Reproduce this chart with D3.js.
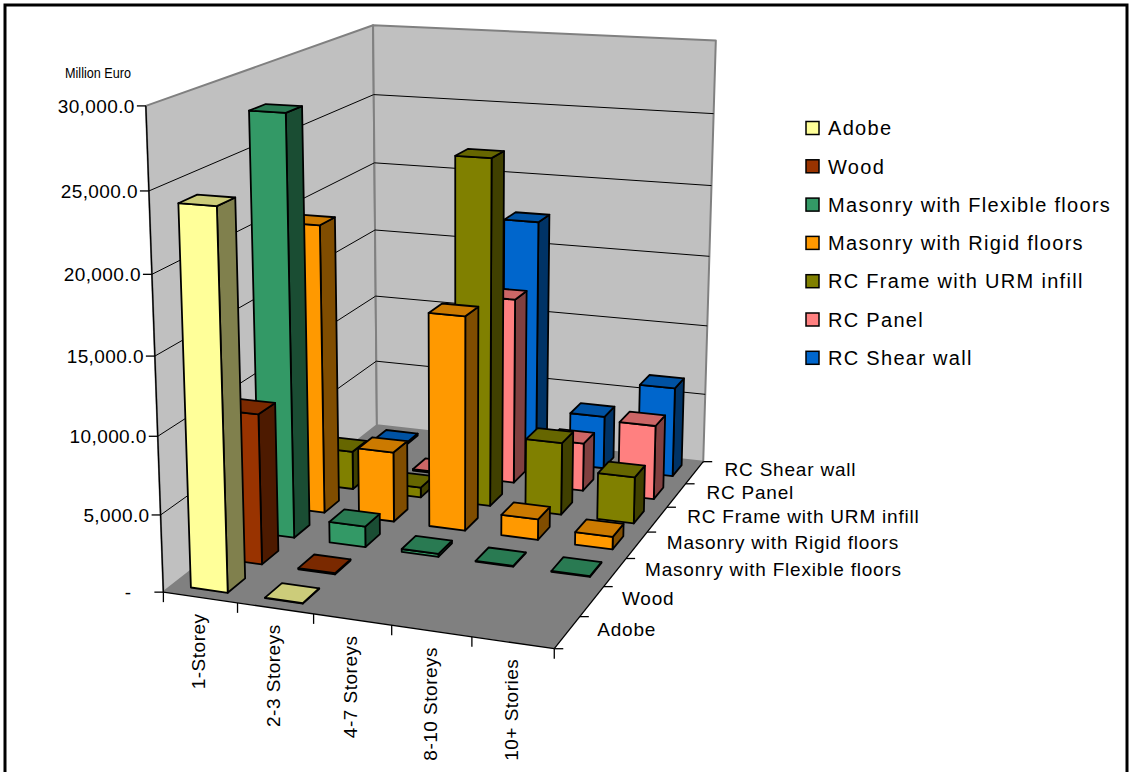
<!DOCTYPE html>
<html>
<head>
<meta charset="utf-8">
<script src="https://cdn.jsdelivr.net/npm/d3@7"></script>
<style>
  body { margin: 0; background: #fff; }
  svg text { font-family: "Liberation Sans", Arial, sans-serif; fill: #000; }
</style>
</head>
<body>
<svg id="chart" width="1131" height="772"></svg>
<script>
// ---- data (Million Euro) ----
const categories = ["1-Storey", "2-3 Storeys", "4-7 Storeys", "8-10 Storeys", "10+ Stories"];
const seriesNames = ["Adobe", "Wood", "Masonry with Flexible floors", "Masonry with Rigid floors",
                     "RC Frame with URM infill", "RC Panel", "RC Shear wall"];
const adobe           = [24100,   30, null, null, null];
const wood            = [ 9900,   80, null, null, null];
const masonryFlexible = [27900, 1400,   200,   50,   50];
const masonryRigid    = [19700, 4800, 14500, 1400,  850];
const rcFrameUrm      = [ 2700,  700, 23800, 5000, 3200];
const rcPanel         = [ null,  100, 13100, 3400, 5200];
const rcShearWall     = [  150, null, 17400, 3800, 6400];
const valueTicks = [0, 5000, 10000, 15000, 20000, 25000, 30000];
const seriesColors = ["#FFFF99", "#993300", "#339966", "#FF9900", "#808000", "#FF8080", "#0066CC"];

const seriesValues = [adobe, wood, masonryFlexible, masonryRigid, rcFrameUrm, rcPanel, rcShearWall];

// ---- 3D frame: screen anchors of the plot box corners (u = category, v = depth, w = height) ----
const frameAnchors = [
  [[0, 0, 0], [163.5, 591.5]],
  [[1, 0, 0], [554.3, 649.3]],
  [[1, 1, 0], [703.3, 461.0]],
  [[0, 1, 0], [376.7, 426.0]],
  [[0, 0, 1], [145.7, 106.0]],
  [[0, 1, 1], [373.3,  25.0]],
  [[1, 1, 1], [715.7,  40.7]]
];

// Least-squares perspective camera (3x4 matrix, last entry fixed to 1).
function fitCamera(pairs) {
  const s = 300, ox = 430, oy = 340;
  const rows = [], rhs = [];
  pairs.forEach(([[u, v, w], [X, Y]]) => {
    const x = (X - ox) / s, y = (Y - oy) / s;
    rows.push([u, v, w, 1, 0, 0, 0, 0, -x * u, -x * v, -x * w]); rhs.push(x);
    rows.push([0, 0, 0, 0, u, v, w, 1, -y * u, -y * v, -y * w]); rhs.push(y);
  });
  const n = 11;
  const A = Array.from({length: n}, () => new Array(n + 1).fill(0));
  rows.forEach((r, k) => {
    for (let i = 0; i < n; i++) {
      for (let j = 0; j < n; j++) A[i][j] += r[i] * r[j];
      A[i][n] += r[i] * rhs[k];
    }
  });
  for (let c = 0; c < n; c++) {
    let p = c;
    for (let i = c + 1; i < n; i++) if (Math.abs(A[i][c]) > Math.abs(A[p][c])) p = i;
    [A[c], A[p]] = [A[p], A[c]];
    for (let i = 0; i < n; i++) {
      if (i === c) continue;
      const f = A[i][c] / A[c][c];
      for (let j = c; j <= n; j++) A[i][j] -= f * A[c][j];
    }
  }
  const h = A.map((row, i) => row[n] / row[i]);
  return (u, v, w) => {
    const d = h[8] * u + h[9] * v + h[10] * w + 1;
    return [ox + s * (h[0] * u + h[1] * v + h[2] * w + h[3]) / d,
            oy + s * (h[4] * u + h[5] * v + h[6] * w + h[7]) / d];
  };
}
const project = fitCamera(frameAnchors);

// ---- scales ----
const xBand = d3.scaleBand().domain(categories).range([0, 1]).paddingInner(0.5).paddingOuter(0.25);
const zBand = d3.scaleBand().domain(seriesNames).range([0, 1]).paddingInner(0.5).paddingOuter(0.25);
const yScale = d3.scaleLinear().domain([0, 30000]).range([0, 1]);
const fmt = d => d === 0 ? "-" : d3.format(",.1f")(d);

const svg = d3.select("#chart");
const poly = pts => "M" + pts.map(p => project(...p).map(n => n.toFixed(2)).join(",")).join("L") + "Z";
const line = (a, b) => { const p = project(...a), q = project(...b); return `M${p[0]},${p[1]}L${q[0]},${q[1]}`; };
const shade = (c, k) => { const r = d3.rgb(c); return d3.rgb(r.r * k, r.g * k, r.b * k).formatHex(); };

// ---- walls and floor ----
const box = svg.append("g");
box.append("path").attr("d", poly([[0,0,0],[0,1,0],[0,1,1],[0,0,1]]))
   .attr("fill", "#C0C0C0").attr("stroke", "#808080").attr("stroke-width", 2).attr("stroke-linejoin", "round");
box.append("path").attr("d", poly([[0,1,0],[1,1,0],[1,1,1],[0,1,1]]))
   .attr("fill", "#C0C0C0").attr("stroke", "#808080").attr("stroke-width", 2).attr("stroke-linejoin", "round");
box.append("path").attr("d", poly([[0,0,0],[1,0,0],[1,1,0],[0,1,0]]))
   .attr("fill", "#808080");

// gridlines on side and back walls
valueTicks.filter(t => t > 0 && t < 30000).forEach(t => {
  const w = yScale(t);
  box.append("path")
     .attr("d", line([0,0,w],[0,1,w]) + line([0,1,w],[1,1,w]).replace("M", "L"))
     .attr("fill", "none").attr("stroke", "#000").attr("stroke-width", 1);
});

// axis lines
const axes = svg.append("g").attr("stroke", "#000").attr("stroke-width", 1.3).attr("fill", "none");
axes.append("path").attr("d", line([0,0,0],[0,0,1]));
axes.append("path").attr("d", line([0,0,0],[1,0,0]));
axes.append("path").attr("d", line([1,0,0],[1,1,0]));

// value axis ticks and labels (zero shown as a dash, set left like an accounting format)
valueTicks.forEach(t => {
  const [x, y] = project(0, 0, yScale(t));
  axes.append("path").attr("d", `M${x - 9},${y}H${x}`);
  svg.append("text").attr("x", x - 11 - (t === 0 ? 21 : 0)).attr("y", y).attr("dy", "0.36em")
     .attr("text-anchor", "end").attr("font-size", 19).attr("letter-spacing", 0.4).text(fmt(t));
});
svg.append("text").attr("x", 65).attr("y", 78).attr("font-size", 15.5)
   .attr("textLength", 66).attr("lengthAdjust", "spacingAndGlyphs").text("Million Euro");

// category axis ticks and labels
d3.range(categories.length + 1).forEach(i => {
  const [x, y] = project(i / categories.length, 0, 0);
  axes.append("path").attr("d", `M${x},${y}V${y + 10}`);
});
categories.forEach(c => {
  const [x, y] = project(xBand(c) + xBand.bandwidth() / 2, 0, 0);
  svg.append("text").attr("transform", `translate(${x + 5},${y + 16}) rotate(-90)`)
     .attr("text-anchor", "end").attr("font-size", 19).attr("letter-spacing", 0.5).text(c);
});

// series axis ticks and labels
d3.range(seriesNames.length + 1).forEach(j => {
  const [x, y] = project(1, j / seriesNames.length, 0);
  axes.append("path").attr("d", `M${x},${y}H${x + 9}`);
});
seriesNames.forEach(s => {
  const [x, y] = project(1, zBand(s) + zBand.bandwidth() / 2, 0);
  svg.append("text").attr("x", x + 30).attr("y", y - 3).attr("dy", "0.36em")
     .attr("font-size", 19).attr("letter-spacing", 0.8).text(s);
});

// ---- bars: back rows first, left to right within a row ----
const bars = svg.append("g").attr("stroke", "#000").attr("stroke-width", 1.8).attr("stroke-linejoin", "round");
d3.range(seriesNames.length).reverse().forEach(j => {
  const s = seriesNames[j], col = seriesColors[j];
  const v0 = zBand(s), v1 = v0 + zBand.bandwidth();
  categories.forEach((c, i) => {
    const val = seriesValues[j][i];
    if (val == null) return;
    const u0 = xBand(c), u1 = u0 + xBand.bandwidth(), h = yScale(val);
    const g = bars.append("g");
    g.append("path").attr("d", poly([[u1,v0,0],[u1,v1,0],[u1,v1,h],[u1,v0,h]])).attr("fill", shade(col, 0.5));
    g.append("path").attr("d", poly([[u0,v0,0],[u1,v0,0],[u1,v0,h],[u0,v0,h]])).attr("fill", col);
    g.append("path").attr("d", poly([[u0,v0,h],[u1,v0,h],[u1,v1,h],[u0,v1,h]])).attr("fill", shade(col, 0.8));
  });
});

// ---- legend ----
const legend = svg.append("g").attr("transform", "translate(806,128)");
seriesNames.forEach((s, j) => {
  const row = legend.append("g").attr("transform", `translate(0,${j * 38.3})`);
  row.append("rect").attr("x", 0).attr("y", -6.5).attr("width", 13).attr("height", 13)
     .attr("fill", seriesColors[j]).attr("stroke", "#000").attr("stroke-width", 1.5);
  row.append("text").attr("x", 22).attr("y", 0).attr("dy", "0.36em").attr("font-size", 20)
     .attr("letter-spacing", 1.3).text(s);
});

// chart border
svg.append("rect").attr("x", 5).attr("y", 5).attr("width", 1122).attr("height", 790)
   .attr("fill", "none").attr("stroke", "#000").attr("stroke-width", 3);
</script>
</body>
</html>
